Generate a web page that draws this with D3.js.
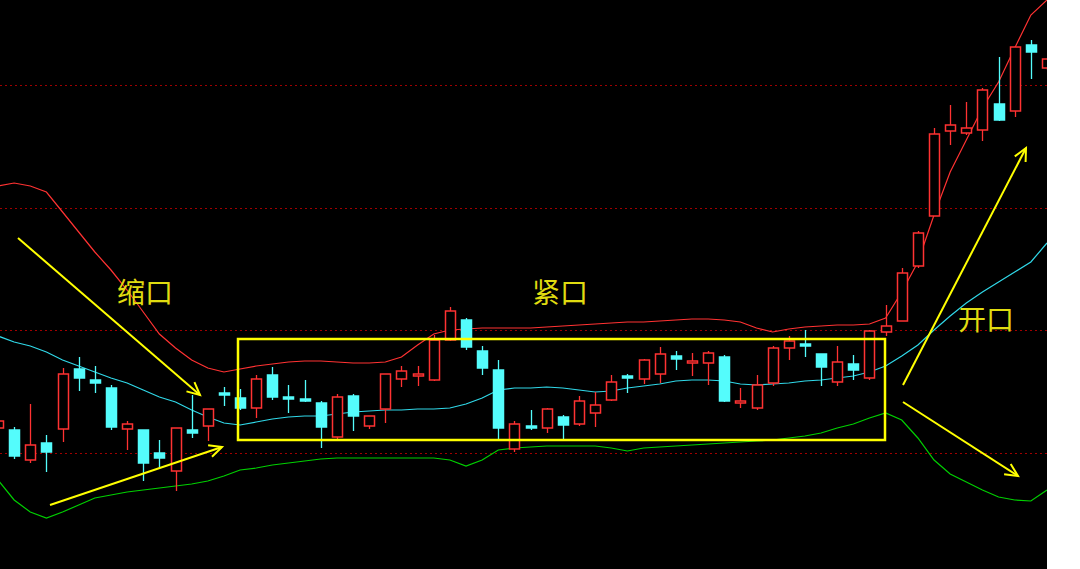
<!DOCTYPE html>
<html>
<head>
<meta charset="utf-8">
<script src="https://cdn.jsdelivr.net/npm/d3@7"></script>
<style>
  html, body { margin: 0; padding: 0; background: #fff; }
  svg { display: block; }
</style>
</head>
<body>
<script>
// values in screen-level units (0 = top, 569 = bottom)
var opens  = [428,430,460,443,429,369,380,388,429,430,453,471,430,426,393,398,408,375,397,399,403,437,396,426,409,379,376,380,340,320,351,370,449,426,428,417,424,413,400,376,379,374,356,363,363,357,403,408,383,348,344,354,382,364,378,332,321,266,216,131,133,130,104,111,45,68];
var highs  = [418,427,404,435,368,357,366,385,421,430,440,428,395,409,387,389,375,367,385,380,401,394,394,416,374,366,366,335,307,318,346,360,421,410,408,415,396,392,375,374,359,347,351,353,351,355,388,375,346,336,330,354,346,355,330,305,268,231,128,105,102,88,57,47,40,59];
var lows   = [430,459,463,472,442,391,393,430,450,481,468,491,438,441,406,410,418,400,413,402,448,439,431,429,423,387,386,381,341,350,375,440,452,430,433,440,426,427,401,393,384,383,370,376,385,402,408,410,386,360,357,386,386,380,380,336,321,268,216,145,135,141,121,117,79,70];
var closes = [421,456,445,452,374,378,383,427,424,463,458,428,433,409,395,408,379,397,399,401,427,397,416,416,374,371,374,340,311,347,368,428,424,428,409,425,401,405,382,378,360,354,359,361,353,401,401,385,348,341,346,367,362,370,331,326,273,233,134,125,128,90,120,47,52,59];

var upperBand = [186,183,186,192,212,232,252,270,290,312,334,348,360,368,372,369,366,364,362,361,361,362,363,363,362,357,345,334,330,329,328,328,328,328,327,326,325,324,323,322,322,321,320,319,319,320,322,328,332,329,327,326,325,325,324,318,292,262,215,172,140,108,82,48,15,0];
var midBand   = [336,342,346,352,360,366,372,378,383,390,397,402,410,417,423,425,422,419,417,416,416,414,412,411,410,410,409,409,408,404,398,390,388,388,387,388,390,392,391,388,386,384,381,380,380,381,384,385,384,383,381,380,378,376,372,366,356,345,330,316,303,292,282,272,262,243];
var lowerBand = [480,500,512,518,512,505,498,495,492,490,488,486,484,481,476,470,468,465,463,461,459,458,458,458,458,458,458,458,460,466,460,450,448,447,446,446,446,446,448,451,448,447,446,445,444,443,442,441,440,438,436,433,428,424,418,413,420,438,460,474,482,490,497,500,501,490];

var gridLevels = [85, 208, 330, 453];

var notes = [
  {text: "缩口", x: 145, y: 303},
  {text: "紧口", x: 560, y: 303},
  {text: "开口", x: 986, y: 330}
];
var arrows = [
  [[18,238],[200,395]],
  [[50,505],[222,447]],
  [[903,385],[1026,148]],
  [[903,402],[1018,476]]
];
var boxCorners = [[238,339],[885,440]];

var W = 1080, H = 569, plotW = 1047;
var RED = "#ff3232", CYAN = "#54fcfc", YEL = "#ffff00";

var svg = d3.select("body").append("svg").attr("width", W).attr("height", H);
svg.append("rect").attr("width", W).attr("height", H).attr("fill", "#fff");
svg.append("defs").append("clipPath").attr("id", "plot")
  .append("rect").attr("width", plotW).attr("height", H);

var g = svg.append("g").attr("clip-path", "url(#plot)");
g.append("rect").attr("width", plotW).attr("height", H).attr("fill", "#000");

var x = d3.scaleLinear().domain([0, opens.length - 1]).range([-2, 1047]);
var y = d3.scaleLinear().domain([0, H]).range([0, H]);

// dotted grid
g.selectAll(".grid").data(gridLevels).enter().append("line")
  .attr("x1", 0).attr("x2", plotW)
  .attr("y1", function(d){ return y(d) + 0.5; }).attr("y2", function(d){ return y(d) + 0.5; })
  .attr("stroke", "#a00000").attr("stroke-dasharray", "2,3");

// bands
var bandLine = function(arr) {
  return d3.line().x(function(d,i){ return x(i); }).y(function(d){ return y(d); })(arr);
};
[[upperBand, RED], [midBand, "#30d8e8"], [lowerBand, "#00d000"]].forEach(function(b) {
  g.append("path").attr("d", bandLine(b[0])).attr("fill", "none")
    .attr("stroke", b[1]).attr("stroke-width", 1.2);
});

// candles
var candles = opens.map(function(o, i) {
  return {i: i, o: o, h: highs[i], l: lows[i], c: closes[i], up: closes[i] <= o};
});
var cg = g.selectAll(".candle").data(candles).enter().append("g");
cg.append("line")
  .attr("x1", function(d){ return Math.round(x(d.i)) + 0.5; })
  .attr("x2", function(d){ return Math.round(x(d.i)) + 0.5; })
  .attr("y1", function(d){ return y(d.h); }).attr("y2", function(d){ return y(d.l); })
  .attr("stroke", function(d){ return d.up ? RED : CYAN; }).attr("stroke-width", 1.3);
cg.append("rect")
  .attr("x", function(d){ return Math.round(x(d.i)) - 4.5; })
  .attr("width", 10)
  .attr("y", function(d){ return y(Math.min(d.o, d.c)); })
  .attr("height", function(d){ return Math.max(1.5, y(Math.max(d.o, d.c)) - y(Math.min(d.o, d.c))); })
  .attr("fill", function(d){ return d.up ? "#000" : CYAN; })
  .attr("stroke", function(d){ return d.up ? RED : CYAN; })
  .attr("stroke-width", 1.5);

// annotations
g.append("rect")
  .attr("x", boxCorners[0][0]).attr("y", boxCorners[0][1])
  .attr("width", boxCorners[1][0] - boxCorners[0][0])
  .attr("height", boxCorners[1][1] - boxCorners[0][1])
  .attr("fill", "none").attr("stroke", YEL).attr("stroke-width", 2.5);

arrows.forEach(function(a) {
  var x1 = a[0][0], y1 = a[0][1], x2 = a[1][0], y2 = a[1][1];
  var ang = Math.atan2(y2 - y1, x2 - x1), len = 14, spread = 0.45;
  g.append("line").attr("x1", x1).attr("y1", y1).attr("x2", x2).attr("y2", y2)
    .attr("stroke", YEL).attr("stroke-width", 2);
  g.append("path")
    .attr("d", "M" + (x2 - len * Math.cos(ang - spread)) + "," + (y2 - len * Math.sin(ang - spread)) +
      "L" + x2 + "," + y2 +
      "L" + (x2 - len * Math.cos(ang + spread)) + "," + (y2 - len * Math.sin(ang + spread)))
    .attr("fill", "none").attr("stroke", YEL).attr("stroke-width", 2);
});

g.selectAll(".note").data(notes).enter().append("text")
  .attr("x", function(d){ return d.x; }).attr("y", function(d){ return d.y; })
  .attr("text-anchor", "middle")
  .attr("font-family", "Noto Sans CJK SC, sans-serif").attr("font-size", 28)
  .attr("fill", "#e0dc10").text(function(d){ return d.text; });
</script>
</body>
</html>
